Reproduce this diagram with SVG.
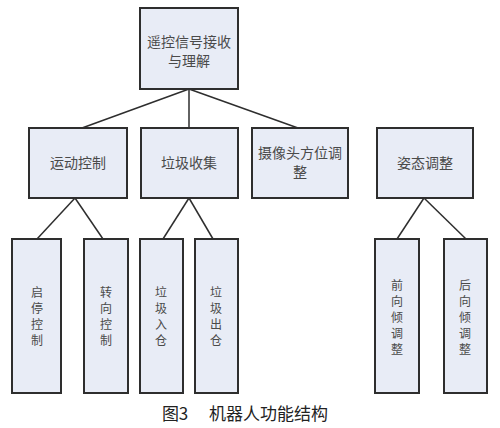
<svg xmlns="http://www.w3.org/2000/svg" width="500" height="428" viewBox="0 0 500 428">
<style>
.box{fill:#e8ecf6;stroke:#2e2e2e;stroke-width:2}
.t{font-family:"Noto Sans CJK SC",sans-serif;font-size:14px;fill:#4a4a4a;text-anchor:middle}
.v{font-family:"Noto Sans CJK SC",sans-serif;font-size:12px;fill:#4a4a4a;text-anchor:middle}
.cap{font-family:"Noto Sans CJK SC",sans-serif;font-size:17px;fill:#222;text-anchor:middle}
#connectors line{stroke:#2e2e2e;stroke-width:1.5}
</style>
<rect width="500" height="428" fill="#fff"/>
<g id="connectors">
<line x1="189" y1="89" x2="82" y2="128"/>
<line x1="189" y1="89" x2="189" y2="128"/>
<line x1="189" y1="89" x2="298" y2="128"/>
<line x1="75" y1="198" x2="37" y2="239"/>
<line x1="75" y1="198" x2="103" y2="239"/>
<line x1="189" y1="198" x2="163" y2="239"/>
<line x1="189" y1="198" x2="213" y2="239"/>
<line x1="424" y1="198" x2="397" y2="239"/>
<line x1="424" y1="198" x2="466" y2="239"/>
</g>
<g id="root"><rect class="box" x="140" y="8" width="98" height="81"/><text class="t" x="189" y="47">遥控信号接收</text><text class="t" x="189" y="66">与理解</text></g>
<g id="n1"><rect class="box" x="29" y="128" width="98" height="70"/><text class="t" x="78" y="168">运动控制</text></g>
<g id="n2"><rect class="box" x="141" y="128" width="97" height="70"/><text class="t" x="189" y="168">垃圾收集</text></g>
<g id="n3"><rect class="box" x="252" y="128" width="96" height="70"/><text class="t" x="300" y="158">摄像头方位调</text><text class="t" x="300" y="177">整</text></g>
<g id="n4"><rect class="box" x="377" y="128" width="96" height="70"/><text class="t" x="425" y="168">姿态调整</text></g>
<g id="n11"><rect class="box" x="12" y="239" width="49" height="154"/><text class="v" x="37" y="297">启</text><text class="v" x="37" y="313">停</text><text class="v" x="37" y="329">控</text><text class="v" x="37" y="345">制</text></g>
<g id="n12"><rect class="box" x="84" y="239" width="44" height="154"/><text class="v" x="106" y="297">转</text><text class="v" x="106" y="313">向</text><text class="v" x="106" y="329">控</text><text class="v" x="106" y="345">制</text></g>
<g id="n21"><rect class="box" x="140" y="239" width="43" height="154"/><text class="v" x="161" y="297">垃</text><text class="v" x="161" y="313">圾</text><text class="v" x="161" y="329">入</text><text class="v" x="161" y="345">仓</text></g>
<g id="n22"><rect class="box" x="195" y="239" width="43" height="154"/><text class="v" x="216" y="297">垃</text><text class="v" x="216" y="313">圾</text><text class="v" x="216" y="329">出</text><text class="v" x="216" y="345">仓</text></g>
<g id="n41"><rect class="box" x="375" y="239" width="44" height="154"/><text class="v" x="397" y="290">前</text><text class="v" x="397" y="306">向</text><text class="v" x="397" y="322">倾</text><text class="v" x="397" y="338">调</text><text class="v" x="397" y="354">整</text></g>
<g id="n42"><rect class="box" x="444" y="239" width="43" height="154"/><text class="v" x="465" y="290">后</text><text class="v" x="465" y="306">向</text><text class="v" x="465" y="322">倾</text><text class="v" x="465" y="338">调</text><text class="v" x="465" y="354">整</text></g>
<text class="cap" x="245" y="420" xml:space="preserve">图3　 机器人功能结构</text>
</svg>
